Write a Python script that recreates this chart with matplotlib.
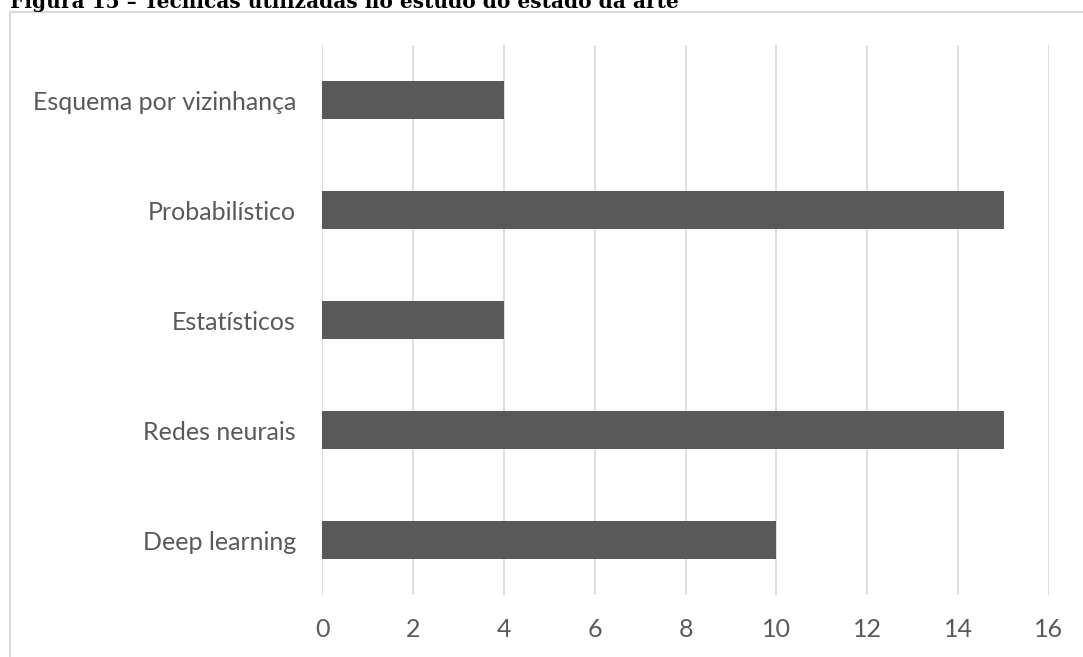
import matplotlib.pyplot as plt
from matplotlib.patches import Rectangle

categories = ['Deep learning', 'Redes neurais', 'Estatísticos', 'Probabilístico', 'Esquema por vizinhança']
values = [10, 15, 4, 15, 4]
xticks = [0, 2, 4, 6, 8, 10, 12, 14, 16]

W, H = 1083, 657
fig = plt.figure(figsize=(W / 100, H / 100), dpi=100)

# frame of the excel chart (cut on right and bottom)
fig.patches.append(Rectangle((10 / W, -0.1), 1.2, 1 - 12 / H + 0.1, transform=fig.transFigure,
                             fill=False, edgecolor='#d9d9d9', linewidth=1.6))

# caption, partly cut at the top
fig.text(10 / W, 1 - 8 / H, 'Figura 15 – Técnicas utilizadas no estudo do estado da arte',
         family='DejaVu Serif', weight='bold', fontsize=14.5, color='black',
         ha='left', va='baseline')

ax = fig.add_axes([322 / W, 1 - 595 / H, (1049 - 322) / W, (595 - 45) / H])
ax.barh(range(len(categories)), values, height=0.345, color='#595959', zorder=3)
ax.set_ylim(-0.5, len(categories) - 0.5)
ax.set_xlim(0, 16)
ax.set_xticks(xticks)
ax.set_yticks(range(len(categories)))
ax.set_yticklabels(categories)
ax.grid(axis='x', color='#d9d9d9', linewidth=1.2, zorder=0)
for s in ax.spines.values():
    s.set_visible(False)
ax.tick_params(length=0, labelsize=18, labelcolor='#595959')
ax.tick_params(axis='y', pad=18.7)
ax.tick_params(axis='x', pad=16.5)
for lab in ax.get_xticklabels() + ax.get_yticklabels():
    lab.set_family('Lato')

fig.savefig('out.png', dpi=100)
